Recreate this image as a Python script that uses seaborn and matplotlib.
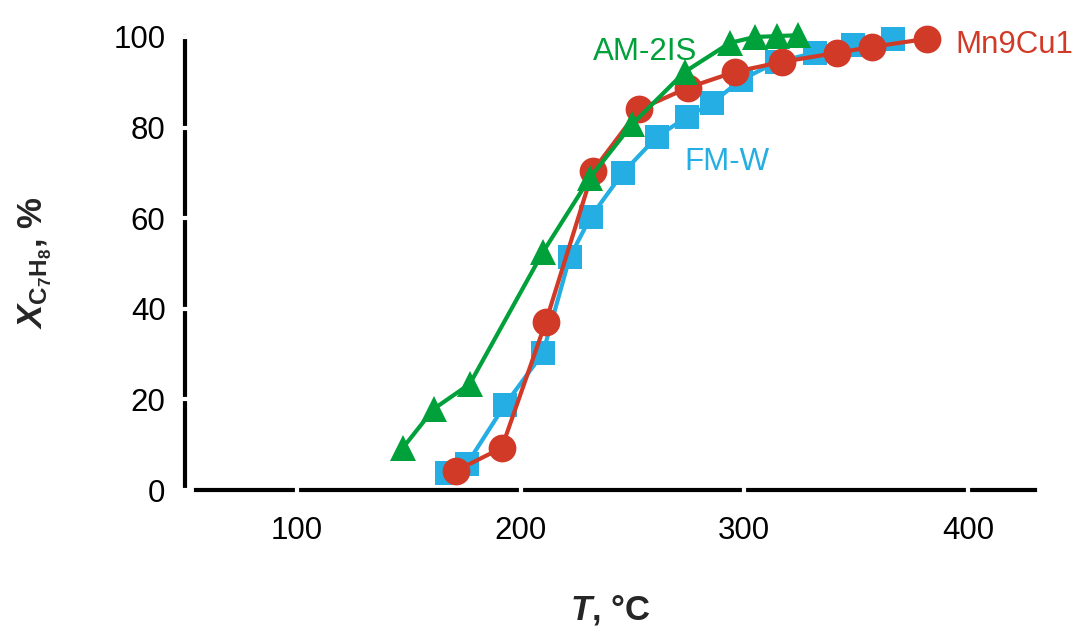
import matplotlib
matplotlib.use("Agg")
import matplotlib.pyplot as plt
import seaborn as sns
import pandas as pd

# ---- data ----
fmw_T = [167, 176, 193, 210, 222, 231.4, 245.7, 261, 274.3, 285.5, 298.5, 314.6, 331.6, 348.5, 366.4]
fmw_X = [3.8, 5.7, 18.8, 30.2, 51.4, 60.3, 70.0, 78.0, 82.3, 85.4, 90.5, 94.5, 96.5, 98.3, 99.6]

mn_T = [171, 191.6, 211.3, 232.3, 253, 274.8, 295.8, 316.8, 341.4, 357, 381.6]
mn_X = [4.2, 9.3, 37.1, 70.4, 84.0, 88.8, 92.3, 94.5, 96.5, 97.8, 99.6]

am_T = [147.4, 161.2, 177.3, 210, 231, 250, 273.4, 293.6, 304.7, 314.6, 324]
am_X = [9.3, 17.9, 23.4, 52.5, 68.9, 80.8, 92.3, 98.7, 100.0, 100.2, 100.4]

x_ticks = [100, 200, 300, 400]
y_ticks = [0, 20, 40, 60, 80, 100]

series_names = ["FM-W", "Mn9Cu1", "AM-2IS"]

BLUE = "#25AEE3"
RED = "#D23A28"
GREEN = "#00A03A"

sns.set_style("white")
plt.rcParams["font.family"] = ["Liberation Sans", "DejaVu Sans"]
plt.rcParams["mathtext.fontset"] = "custom"
plt.rcParams["mathtext.rm"] = "Liberation Sans:bold"
plt.rcParams["mathtext.bf"] = "Liberation Sans:bold"
plt.rcParams["mathtext.it"] = "Liberation Sans:bold:italic"

fig = plt.figure(figsize=(10.74, 6.33), dpi=100)
ax = fig.add_axes([185 / 1074, 143 / 633, 850 / 1074, 453 / 633])

df_f = pd.DataFrame({"T": fmw_T, "X": fmw_X})
df_m = pd.DataFrame({"T": mn_T, "X": mn_X})
df_a = pd.DataFrame({"T": am_T, "X": am_X})

sns.lineplot(data=df_f, x="T", y="X", sort=False, color=BLUE, lw=3, marker="s",
             markersize=17, markeredgewidth=0, ax=ax, clip_on=False, zorder=2)
sns.lineplot(data=df_m, x="T", y="X", sort=False, color=RED, lw=3, marker="o",
             markersize=20, markeredgewidth=0, ax=ax, clip_on=False, zorder=3)
sns.lineplot(data=df_a, x="T", y="X", sort=False, color=GREEN, lw=3, marker="^",
             markersize=19, markeredgewidth=0, ax=ax, clip_on=False, zorder=4)

ax.set_xlim(50, 430)
ax.set_ylim(0, 100)
ax.set_xticks(x_ticks)
ax.set_yticks(y_ticks)
ax.set_xlabel("")
ax.set_ylabel("")

for s in ["top", "right"]:
    ax.spines[s].set_visible(False)
for s in ["left", "bottom"]:
    ax.spines[s].set_linewidth(3)
    ax.spines[s].set_color("black")
    ax.spines[s].set_zorder(1)
ax.spines["bottom"].set_bounds(55, 430)
ax.spines["left"].set_bounds(0.8, 100)

ax.xaxis.set_tick_params(which="major", bottom=True, direction="inout", length=10,
                         width=3, color="white", labelcolor="black", labelsize=22.5, pad=14)
ax.yaxis.set_tick_params(which="major", left=True, direction="inout", length=10,
                         width=3, color="white", labelcolor="black", labelsize=22.5, pad=9)
ax.xaxis.set_zorder(6)
ax.yaxis.set_zorder(6)
ax.grid(False)

ax.text(255.6, 96.7, series_names[2], color=GREEN, fontsize=22.5, ha="center", va="center")
ax.text(292.2, 72.4, series_names[0], color=BLUE, fontsize=22.5, ha="center", va="center")
ax.text(394.5, 98.2, series_names[1], color=RED, fontsize=22.5, ha="left", va="center")

fig.text(35 / 1074, 1 - 263 / 633, r"$X_{\mathrm{C_7H_8}}$, %", rotation=90,
         fontsize=25, fontweight="bold", ha="center", va="center")
fig.text(610 / 1074, 1 - 610 / 633, r"$T$, °C", fontsize=25, fontweight="bold",
         ha="center", va="center")

fig.savefig("out.png", dpi=100)
